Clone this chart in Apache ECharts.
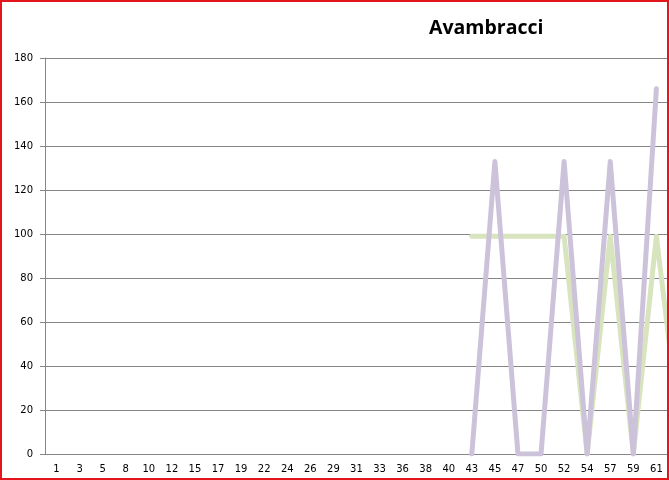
<!DOCTYPE html>
<html>
<head>
<meta charset="utf-8">
<script src="https://cdn.jsdelivr.net/npm/echarts@6/dist/echarts.min.js"></script>
<style>
html,body{margin:0;padding:0;width:669px;height:480px;overflow:hidden;background:#fff;}
#chart{position:absolute;left:0;top:0;width:720px;height:480px;}
#frame{position:absolute;left:0;top:0;width:665px;height:476px;border:2px solid #e3161c;pointer-events:none;}
</style>
</head>
<body>
<div id="chart"></div>
<div id="frame"></div>
<script>
const categories = ['1','3','5','8','10','12','15','17','19','22','24','26','29','31','33','36','38','40','43','45','47','50','52','54','57','59','61','64'];
const greenValues = [null,null,null,null,null,null,null,null,null,null,null,null,null,null,null,null,null,null,99,99,99,99,99,0,99,0,99,12];
const purpleValues = [null,null,null,null,null,null,null,null,null,null,null,null,null,null,null,null,null,null,0,133,0,0,133,0,133,0,166,null];
const yTicks = {min:0, max:180, interval:20};

const chart = echarts.init(document.getElementById('chart'), null, {renderer:'canvas'});
chart.setOption({
  animation:false,
  title:{
    text:'Avambracci',
    left:424, top:13,
    textStyle:{fontFamily:'Open Sans', fontWeight:'bold', fontSize:19.5, color:'#000'}
  },
  grid:{left:45, top:58, bottom:26, right:29, containLabel:false},
  xAxis:{
    type:'category',
    data:categories,
    boundaryGap:true,
    axisLine:{show:true, lineStyle:{color:'#868686', width:1}},
    axisTick:{show:false},
    axisLabel:{interval:0, fontFamily:'DejaVu Sans', fontSize:10, color:'#000', margin:10}
  },
  yAxis:{
    type:'value',
    min:yTicks.min, max:yTicks.max, interval:yTicks.interval,
    axisLine:{show:true, lineStyle:{color:'#868686', width:1}},
    axisTick:{show:true, length:5, lineStyle:{color:'#868686'}},
    splitLine:{show:true, lineStyle:{color:'#868686', width:1}},
    axisLabel:{fontFamily:'DejaVu Sans', fontSize:10, color:'#000', margin:12}
  },
  series:[
    {
      type:'line', data:greenValues, symbol:'none', connectNulls:false,
      lineStyle:{color:'#d7e4bd', width:5, cap:'round', join:'round'}
    },
    {
      type:'line', data:purpleValues, symbol:'none', connectNulls:false,
      lineStyle:{color:'#ccc3da', width:5, cap:'round', join:'round'}
    }
  ]
});
</script>
</body>
</html>
